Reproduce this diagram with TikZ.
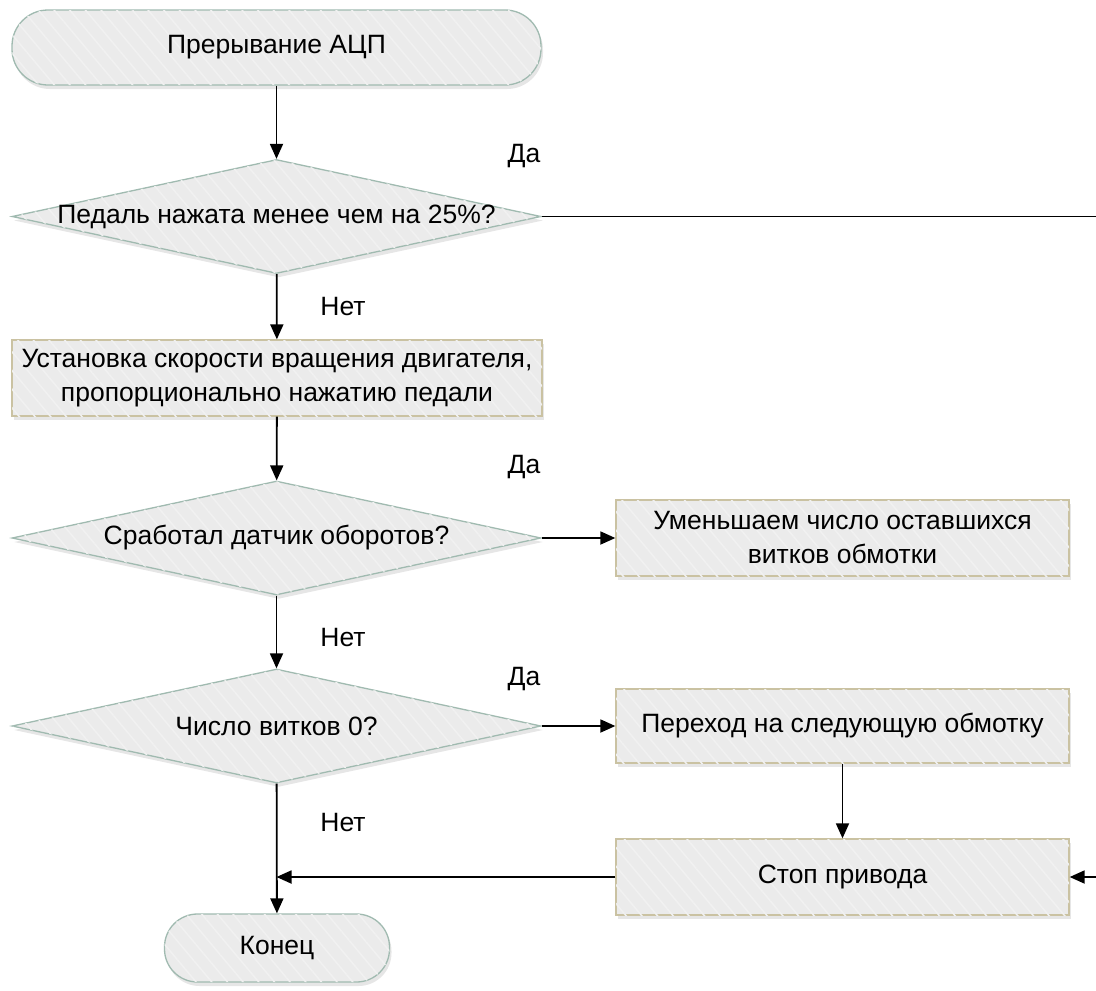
\documentclass[tikz,border=0pt]{standalone}
\usepackage{fontspec}
\setmainfont{Liberation Sans}
\usetikzlibrary{shapes.geometric,arrows.meta,shadows,patterns.meta}

\definecolor{shapefill}{RGB}{235,235,235}
\definecolor{stripe}{RGB}{241,241,241}
\definecolor{termline}{RGB}{160,186,176}
\definecolor{boxline}{RGB}{202,194,162}

\tikzset{
  base/.style={fill=shapefill, line width=1.3pt, inner sep=0pt, align=center,
    font=\fontsize{26.5}{34}\selectfont,
    drop shadow={opacity=0.2, shadow xshift=2pt, shadow yshift=-4pt},
    postaction={pattern={Lines[angle=-50,distance=12pt,line width=1.5pt]}, pattern color=stripe}},
  term/.style={base, draw=termline, rectangle, rounded corners=36pt},
  decision/.style={base, draw=termline, diamond, aspect=4.68, inner xsep=-14pt,
    minimum width=529pt, minimum height=114pt},
  procbox/.style={base, draw=boxline, rectangle, minimum height=76pt},
  arr/.style={-{Triangle[length=15pt,width=13pt]}, line width=1.8pt, black},
  lbl/.style={font=\fontsize{26.5}{30}\selectfont, inner sep=0pt}
}

\begin{document}
\begin{tikzpicture}[x=1pt,y=-1pt]
  \useasboundingbox (0,0) rectangle (1096,991);

  % main column
  \node[term, minimum width=529pt, minimum height=75pt] (start) at (276.5,47.5) {Прерывание АЦП};
  \node[decision] (d1) at (276.5,216.5) {Педаль нажата менее чем на 25\%?};
  \node[procbox, minimum width=530pt] (r1) at (277,378)
    {Установка скорости вращения двигателя,\\пропорционально нажатию педали};
  \node[decision] (d2) at (276.5,538) {Сработал датчик оборотов?};
  \node[decision] (d3) at (276.5,726) {Число витков 0?};
  \node[term, minimum width=225pt, minimum height=68pt, rounded corners=33pt] (stop) at (277,948) {Конец};

  % right column
  \node[procbox, minimum width=453pt] (r2) at (842.5,538) {Уменьшаем число оставшихся\\витков обмотки};
  \node[procbox, minimum width=453pt, minimum height=74pt] (r3) at (842.5,726) {Переход на следующую обмотку};
  \node[procbox, minimum width=453pt] (halt) at (842.5,877) {Стоп привода};

  % branch labels
  \node[lbl] (yes1) at (524,156) {Да};
  \node[lbl] (no1)  at (343,307) {Нет};
  \node[lbl] (yes2) at (524,467) {Да};
  \node[lbl] (no2)  at (343,638) {Нет};
  \node[lbl] (yes3) at (524,679) {Да};
  \node[lbl] (no3)  at (343,823) {Нет};

  % off-page return line on the right
  \coordinate (farright) at (1104,0);

  % connectors
  \draw[arr] (start) -- (d1);
  \draw[arr] (d1) -- (r1);
  \draw[arr] (r1) -- (d2);
  \draw[arr] (d2) -- (d3);
  \draw[arr] (d3) -- (stop);
  \draw[arr] (d2.east) -- (r2.west);
  \draw[arr] (d3.east) -- (r3.west);
  \draw[arr] (r3) -- (halt);
  \draw[arr] (halt.west) -- (halt.west -| d3.south);
  \draw[arr] (d1.east) -- (d1.east -| farright) |- (halt.east);
\end{tikzpicture}
\end{document}
